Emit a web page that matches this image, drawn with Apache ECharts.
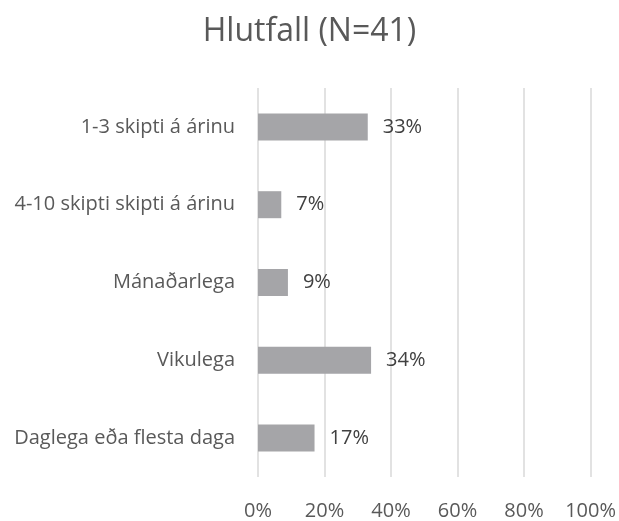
<!DOCTYPE html>
<html>
<head>
<meta charset="utf-8">
<script src="https://cdn.jsdelivr.net/npm/echarts@6/dist/echarts.min.js"></script>
<style>
  html, body { margin: 0; padding: 0; background: #fff; }
  #chart { width: 619px; height: 521px; }
</style>
</head>
<body>
<div id="chart"></div>
<script>
// svarflokkar, efst til neðst
const categories = ['1-3 skipti á árinu', '4-10 skipti skipti á árinu', 'Mánaðarlega', 'Vikulega', 'Daglega eða flesta daga'];
const values = [33, 7, 9, 34, 17];
const titleText = 'Hlutfall (N=41)';

const fontFamily = '"Open Sans", sans-serif';
const textColor = '#595959';

const chart = echarts.init(document.getElementById('chart'));
chart.setOption({
  animation: false,
  title: {
    text: titleText,
    left: 'center',
    top: 11,
    textStyle: { fontFamily: fontFamily, fontSize: 32, fontWeight: 'normal', color: textColor }
  },
  grid: { left: 258, right: 27, top: 88, bottom: 44, containLabel: false },
  xAxis: {
    type: 'value',
    min: 0,
    max: 100,
    interval: 20,
    axisLine: { show: false },
    axisTick: { show: false },
    axisLabel: {
      formatter: '{value}%',
      margin: 24,
      fontFamily: fontFamily,
      fontSize: 20,
      color: textColor
    },
    splitLine: { lineStyle: { color: '#d9d9d9', width: 1.5 } }
  },
  yAxis: {
    type: 'category',
    data: categories,
    inverse: true,
    axisLine: { show: false },
    axisTick: { show: false },
    axisLabel: {
      margin: 23,
      fontFamily: fontFamily,
      fontSize: 20,
      color: textColor
    }
  },
  series: [{
    type: 'bar',
    data: values,
    barWidth: 27,
    itemStyle: { color: '#a5a5a8' },
    label: {
      show: true,
      position: 'right',
      distance: 15,
      formatter: '{c}%',
      fontFamily: fontFamily,
      fontSize: 20,
      color: '#404040'
    }
  }]
});
</script>
</body>
</html>
